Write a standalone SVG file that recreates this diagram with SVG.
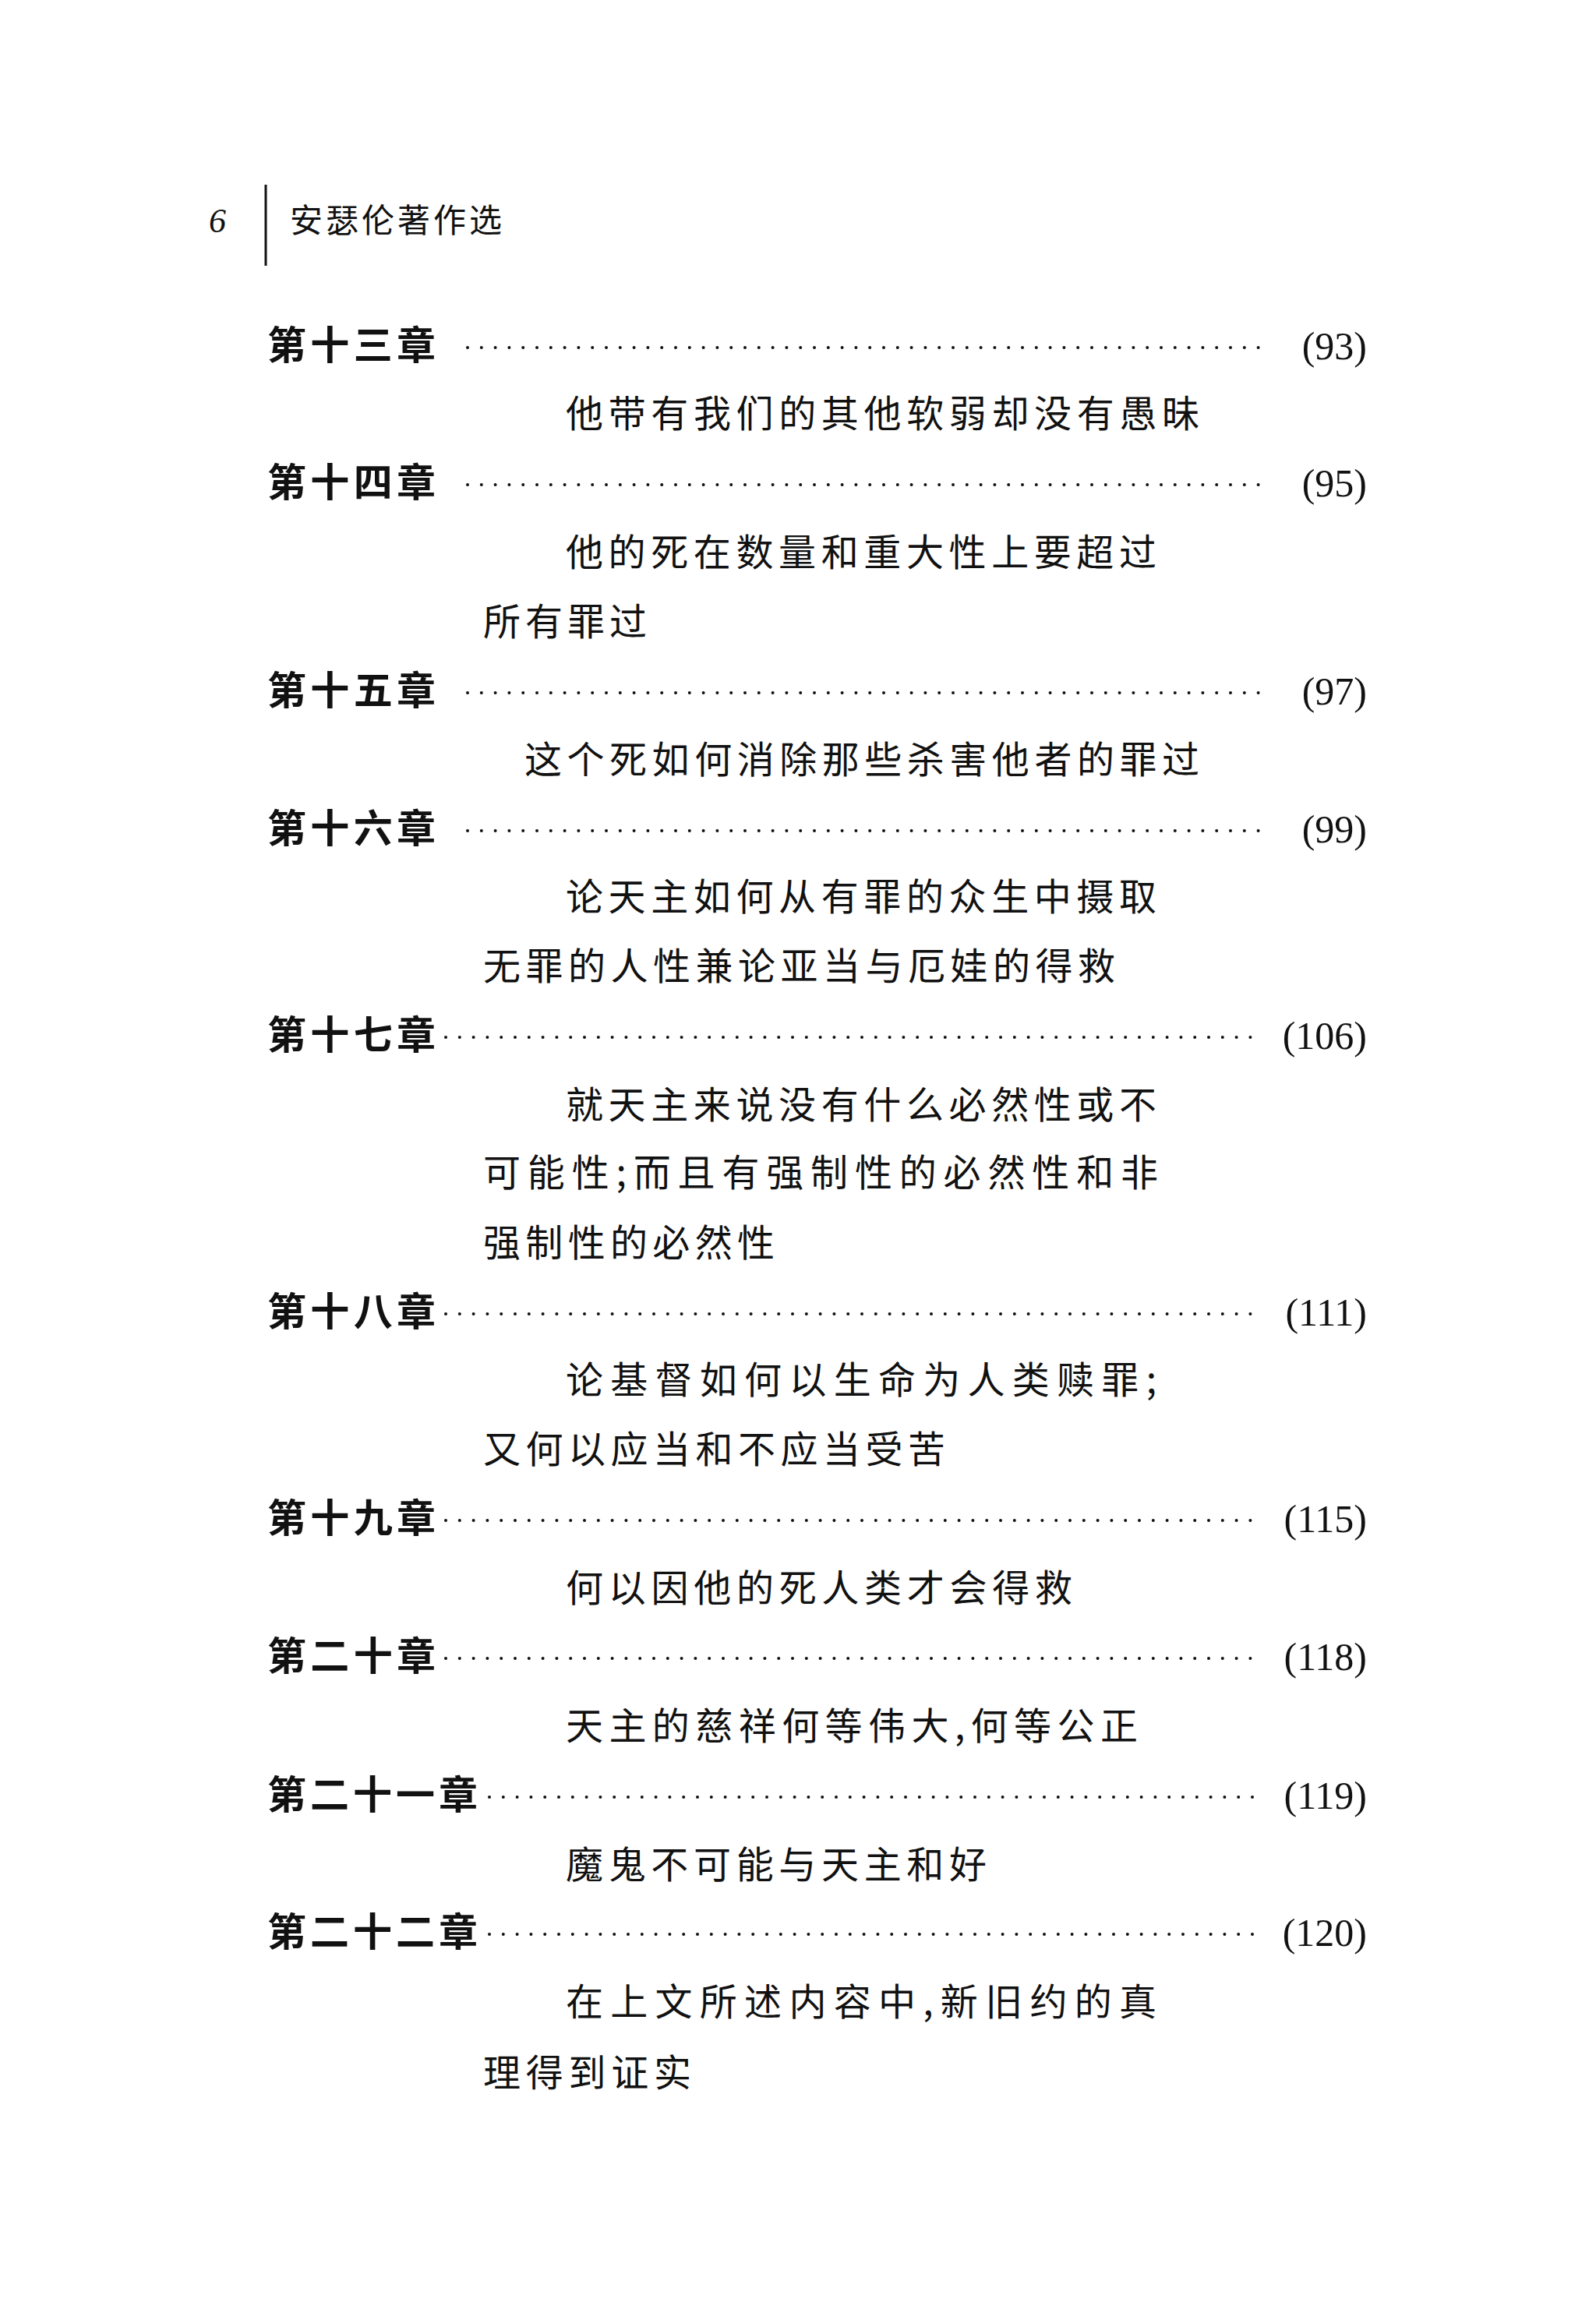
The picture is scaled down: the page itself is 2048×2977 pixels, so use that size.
<svg xmlns="http://www.w3.org/2000/svg" width="2048" height="2977" viewBox="0 0 2048 2977">
<style>
.h{font-family:"Noto Sans CJK SC",sans-serif;font-weight:bold;font-size:50px;fill:#111}
.b{font-family:"Noto Sans CJK SC",sans-serif;font-size:48px;fill:#111}
.n{font-family:"Liberation Serif",serif;font-size:50px;fill:#111}
.d{stroke:#111;stroke-width:4;stroke-linecap:round;stroke-dasharray:0 17.8}
</style>
<rect width="2048" height="2977" fill="#fff"/>
<text x="268" y="298" font-family="Liberation Serif,serif" font-style="italic" font-size="44" fill="#111">6</text>
<line x1="341" y1="237" x2="341" y2="341" stroke="#111" stroke-width="3"/>
<text x="372" y="298" font-family="Noto Sans CJK SC,sans-serif" font-size="42" fill="#111" textLength="272">安瑟伦著作选</text>
<g>
<text class="h" x="343" y="461" textLength="216">第十三章</text>
<line class="d" x1="600" y1="446" x2="1620" y2="446"/>
<text class="n" x="1754" y="461" text-anchor="end">(93)</text>
<text class="b" x="726" y="548" textLength="813">他带有我们的其他软弱却没有愚昧</text>

<text class="h" x="343" y="637" textLength="216">第十四章</text>
<line class="d" x1="600" y1="622" x2="1620" y2="622"/>
<text class="n" x="1754" y="637" text-anchor="end">(95)</text>
<text class="b" x="726" y="726" textLength="758">他的死在数量和重大性上要超过</text>
<text class="b" x="620" y="815" textLength="210">所有罪过</text>

<text class="h" x="343" y="904" textLength="216">第十五章</text>
<line class="d" x1="600" y1="889" x2="1620" y2="889"/>
<text class="n" x="1754" y="904" text-anchor="end">(97)</text>
<text class="b" x="673" y="992" textLength="866">这个死如何消除那些杀害他者的罪过</text>

<text class="h" x="343" y="1081" textLength="216">第十六章</text>
<line class="d" x1="600" y1="1066" x2="1620" y2="1066"/>
<text class="n" x="1754" y="1081" text-anchor="end">(99)</text>
<text class="b" x="726" y="1168" textLength="758">论天主如何从有罪的众生中摄取</text>
<text class="b" x="620" y="1257" textLength="811">无罪的人性兼论亚当与厄娃的得救</text>

<text class="h" x="343" y="1346" textLength="216">第十七章</text>
<line class="d" x1="572" y1="1331" x2="1610" y2="1331"/>
<text class="n" x="1754" y="1346" text-anchor="end">(106)</text>
<text class="b" x="726" y="1435" textLength="758">就天主来说没有什么必然性或不</text>
<text class="b" x="620" y="1522" textLength="866">可能性;而且有强制性的必然性和非</text>
<text class="b" x="620" y="1612" textLength="374">强制性的必然性</text>

<text class="h" x="343" y="1701" textLength="216">第十八章</text>
<line class="d" x1="572" y1="1686" x2="1610" y2="1686"/>
<text class="n" x="1754" y="1701" text-anchor="end">(111)</text>
<text class="b" x="726" y="1788" textLength="758">论基督如何以生命为人类赎罪;</text>
<text class="b" x="620" y="1877" textLength="593">又何以应当和不应当受苦</text>

<text class="h" x="343" y="1966" textLength="216">第十九章</text>
<line class="d" x1="572" y1="1951" x2="1610" y2="1951"/>
<text class="n" x="1754" y="1966" text-anchor="end">(115)</text>
<text class="b" x="726" y="2055" textLength="650">何以因他的死人类才会得救</text>

<text class="h" x="343" y="2143" textLength="216">第二十章</text>
<line class="d" x1="572" y1="2128" x2="1610" y2="2128"/>
<text class="n" x="1754" y="2143" text-anchor="end">(118)</text>
<text class="b" x="726" y="2232" textLength="734">天主的慈祥何等伟大,何等公正</text>

<text class="h" x="343" y="2321" textLength="270">第二十一章</text>
<line class="d" x1="628" y1="2306" x2="1610" y2="2306"/>
<text class="n" x="1754" y="2321" text-anchor="end">(119)</text>
<text class="b" x="726" y="2410" textLength="540">魔鬼不可能与天主和好</text>

<text class="h" x="343" y="2497" textLength="270">第二十二章</text>
<line class="d" x1="628" y1="2482" x2="1610" y2="2482"/>
<text class="n" x="1754" y="2497" text-anchor="end">(120)</text>
<text class="b" x="726" y="2586" textLength="758">在上文所述内容中,新旧约的真</text>
<text class="b" x="620" y="2677" textLength="267">理得到证实</text>
</g>
</svg>
